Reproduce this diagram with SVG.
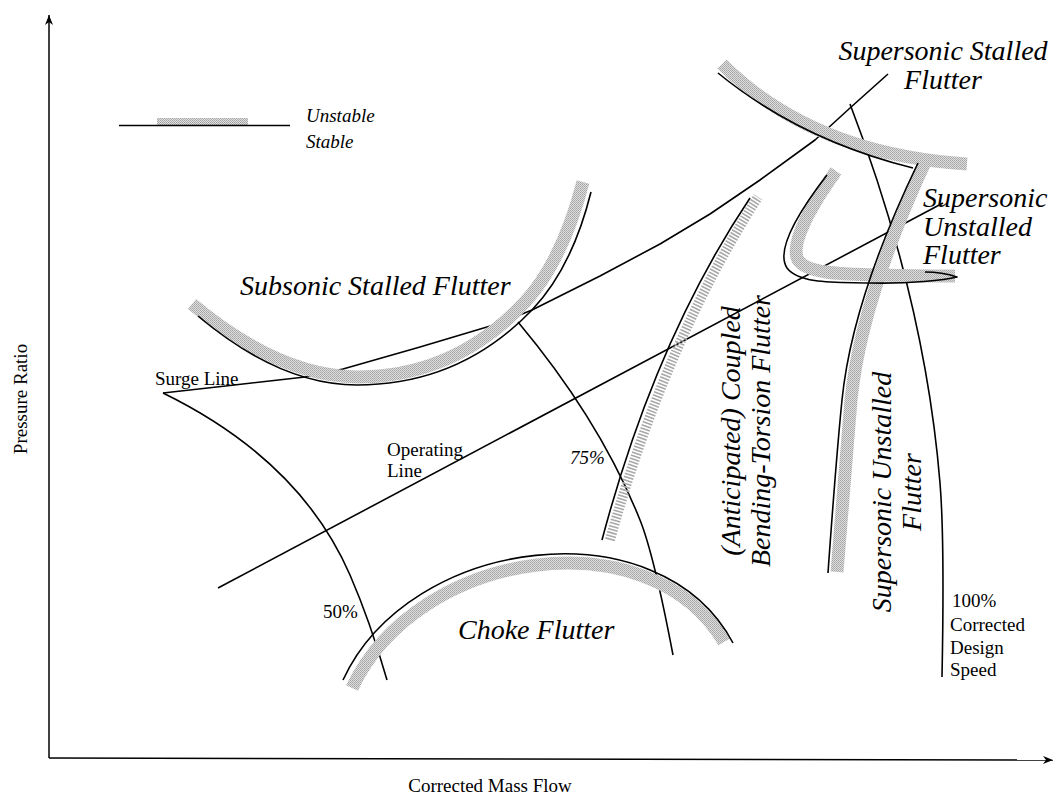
<svg xmlns="http://www.w3.org/2000/svg" width="1055" height="795" viewBox="0 0 1055 795">
<style>
.ln{fill:none;stroke:#000;stroke-width:1.6;stroke-linejoin:round}
.ax{fill:none;stroke:#000;stroke-width:1.5}
.band{fill:none;stroke:url(#stip);stroke-width:13}
.hatch{fill:none;stroke:#a8a8a8;stroke-width:10;stroke-dasharray:1.6 1.6}
.lbl{font-family:"Liberation Serif","Times New Roman",serif;font-style:italic;font-size:28px;fill:#000}
.sm{font-family:"Liberation Serif","Times New Roman",serif;font-size:19px;fill:#000}
.it{font-style:italic}
</style>
<defs>
<pattern id="stip" width="2" height="2" patternUnits="userSpaceOnUse">
<rect width="2" height="2" fill="#dedede"/>
<rect width="1" height="1" fill="#a4a4a4"/>
<rect x="1" y="1" width="1" height="1" fill="#b0b0b0"/>
</pattern>
<marker id="ah" viewBox="0 0 10 8" refX="10" refY="4" markerWidth="10" markerHeight="8" orient="auto" markerUnits="userSpaceOnUse"><path d="M0,0 L10,4 L0,8 L3,4 Z" fill="#000"/></marker>
</defs>
<rect width="1055" height="795" fill="#fff"/>

<g id="axes">
<path class="ax" d="M49,758 V15" marker-end="url(#ah)"/>
<path class="ax" d="M49,758 L1053,760" marker-end="url(#ah)"/>
<text class="sm" font-size="22" transform="translate(27,399) rotate(-90)" text-anchor="middle">Pressure Ratio</text>
<text class="sm" font-size="22" x="490" y="792" text-anchor="middle">Corrected Mass Flow</text>
</g>

<g id="legend">
<rect x="157" y="118" width="91" height="7" fill="url(#stip)"/>
<path class="ln" d="M119,125.5 H290"/>
<text class="sm it" font-size="18" x="306" y="122">Unstable</text>
<text class="sm it" font-size="18" x="306" y="148">Stable</text>
</g>

<g id="connectors">
<path id="surge-line" class="ln" d="M163,393 L230,385.5 L305,377 L343,369 L420,347 L497,324 L532,310 L600,276 L660,244 L710,214 L760,180 L815,140 L850,108 L888,74"/>
<path id="operating-line" class="ln" d="M218,588 L943,203"/>
<path id="speed-50" class="ln" d="M163,393 Q300,460 350,575 Q370,621 387,680"/>
<path id="speed-75" class="ln" d="M518,322 Q600,420 640,520 Q654,555 673,655"/>
<path id="speed-100" class="ln" d="M850,104 Q925,300 940,483 Q944.7,540 942,677"/>
</g>

<g id="subsonic-stalled">
<path class="band" d="M192,304 Q278,376 357,377 Q455,377 525,302 Q562,262 583,182"/>
<text class="lbl" x="240" y="295">Subsonic Stalled Flutter</text>
</g>
<g id="choke">
<path class="band" d="M352,688 C418,548 650,516 724,642"/>
<text class="lbl" x="458" y="639">Choke Flutter</text>
</g>
<g id="coupled">
<path class="hatch" d="M610,540 Q665,342 758,197"/>
<text class="lbl" text-anchor="middle" transform="translate(740,431) rotate(-90)">(Anticipated) Coupled</text>
<text class="lbl" text-anchor="middle" transform="translate(770,431) rotate(-90)">Bending-Torsion Flutter</text>
</g>
<g id="supersonic-stalled">
<path class="band" stroke-width="12" d="M722,64 Q812,154 967,164"/>
<text class="lbl" text-anchor="middle" x="943" y="60">Supersonic Stalled</text>
<text class="lbl" text-anchor="middle" x="943" y="89">Flutter</text>
</g>
<g id="supersonic-unstalled-vertical">
<path class="band" d="M926,160 Q861,300 851,400 Q845,470 837,572"/>
<text class="lbl" text-anchor="middle" transform="translate(891,492) rotate(-90)">Supersonic Unstalled</text>
<text class="lbl" text-anchor="middle" transform="translate(921,492) rotate(-90)">Flutter</text>
</g>
<g id="supersonic-unstalled-hook">
<path class="band" d="M836,171 C808,210 790,245 798,260 C808,275 850,274 880,275 C915,276 940,276 955,276"/>
<text class="lbl" x="923" y="207">Supersonic</text>
<text class="lbl" x="923" y="236">Unstalled</text>
<text class="lbl" x="923" y="264">Flutter</text>
</g>

<g id="boundaries">
<path class="ln" d="M198,316 Q280,385 357,385 Q460,385 532,310 Q572,268 591,192"/>
<path class="ln" d="M343,680 C410,535 660,505 733,643"/>
<path class="ln" d="M602,540 Q655,340 750,198"/>
<path class="ln" d="M718,73 Q800,140 913,168"/>
<path class="ln" d="M918,163 Q852,300 842,400 Q836,460 828,573"/>
<path class="ln" d="M827,175 C800,210 775,250 787,268 C800,285 840,282 870,283 C910,284 945,280 957,277 C945,273 935,272 925,272"/>
</g>

<g id="speed-labels">
<text class="sm" x="155" y="385">Surge Line</text>
<text class="sm" x="387" y="456">Operating</text>
<text class="sm" x="387" y="477">Line</text>
<text class="sm it" font-size="18" x="570" y="464">75%</text>
<text class="sm" x="323" y="618">50%</text>
<text class="sm" x="952" y="607">100%</text>
<text class="sm" x="950" y="631">Corrected</text>
<text class="sm" x="950" y="654">Design</text>
<text class="sm" x="950" y="676">Speed</text>
</g>
</svg>
